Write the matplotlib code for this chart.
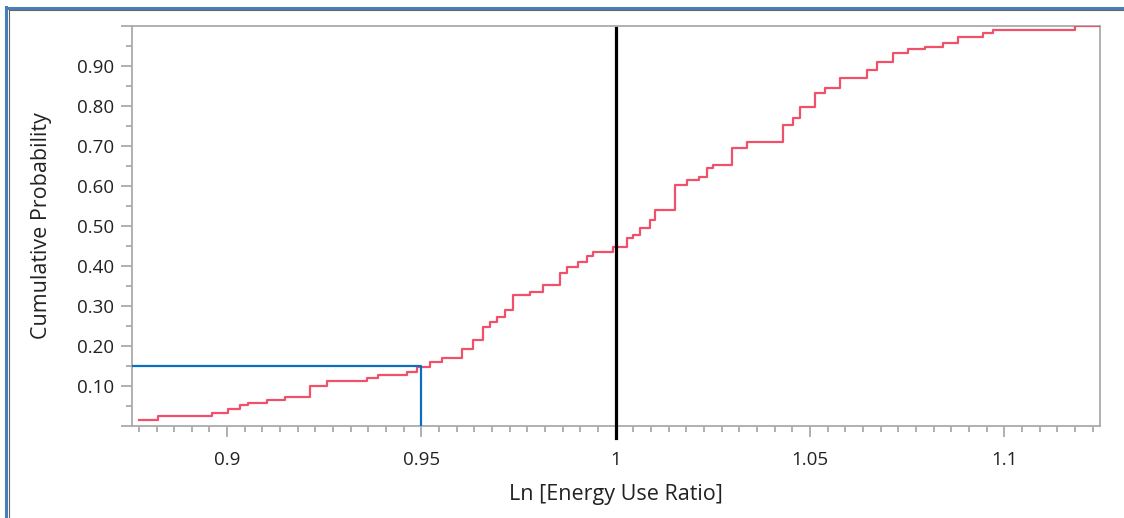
import numpy as np
import matplotlib
matplotlib.use("Agg")
import matplotlib.pyplot as plt
from matplotlib.ticker import MultipleLocator, AutoMinorLocator, FuncFormatter
from matplotlib.lines import Line2D

plt.rcParams['font.family'] = ['Open Sans', 'DejaVu Sans']

ratio = [0.8773, 0.8822, 0.8961, 0.9002, 0.9033, 0.9053, 0.9102, 0.9149, 0.9213,
         0.9257, 0.9360, 0.9388, 0.9463, 0.9489, 0.9522, 0.9553, 0.9604, 0.9632,
         0.9658, 0.9676, 0.9694, 0.9715, 0.9735, 0.9779, 0.9813, 0.9856, 0.9874,
         0.9903, 0.9926, 0.9941, 0.9993, 1.0029, 1.0045, 1.0063, 1.0088, 1.0101,
         1.0152, 1.0183, 1.0215, 1.0234, 1.0250, 1.0299, 1.0337, 1.0430, 1.0456,
         1.0474, 1.0513, 1.0538, 1.0577, 1.0646, 1.0672, 1.0713, 1.0752, 1.0796,
         1.0842, 1.0881, 1.0945, 1.0971, 1.1182]
cum_prob = [0.015, 0.025, 0.033, 0.042, 0.052, 0.058, 0.065, 0.073, 0.100,
            0.113, 0.121, 0.1275, 0.135, 0.148, 0.161, 0.170, 0.192, 0.215,
            0.248, 0.260, 0.273, 0.290, 0.3275, 0.336, 0.3525, 0.382, 0.398,
            0.410, 0.425, 0.436, 0.448, 0.470, 0.478, 0.495, 0.515, 0.540,
            0.6025, 0.615, 0.623, 0.645, 0.6525, 0.695, 0.711, 0.7525, 0.770,
            0.798, 0.8325, 0.845, 0.870, 0.890, 0.911, 0.933, 0.942, 0.948,
            0.958, 0.973, 0.983, 0.990, 1.000]

target = 1.0
cutoff_x = 0.95
cutoff_p = 0.15
x_range = (0.8755, 1.1246)

grey = '#aaaaaa'
text_col = '#222222'

fig = plt.figure(figsize=(11.24, 5.18), dpi=100)
ax = fig.add_axes([0.1174, 0.1776, 0.8612, 0.7722])

xs = ratio + [x_range[1]]
ys = cum_prob + [cum_prob[-1]]
ax.plot(xs, ys, drawstyle='steps-post', color='#f0506a', lw=1.6, zorder=3)

# reference lines
ax.plot([x_range[0], cutoff_x, cutoff_x], [cutoff_p, cutoff_p, 0],
        color='#0a6fc2', lw=1.6, zorder=4)
ax.plot([target, target], [-0.03, 0.995], color='black', lw=2.3,
        clip_on=False, zorder=5)

ax.set_xlim(*x_range)
ax.set_ylim(0, 1.0)

ax.xaxis.set_major_locator(MultipleLocator(0.05))
ax.xaxis.set_minor_locator(AutoMinorLocator(11))
ax.xaxis.set_major_formatter(FuncFormatter(lambda v, p: '%g' % round(v, 3)))
ax.yaxis.set_major_locator(MultipleLocator(0.1))
ax.yaxis.set_minor_locator(AutoMinorLocator(2))
ax.yaxis.set_major_formatter(FuncFormatter(
    lambda v, p: '' if v < 0.05 or v > 0.95 else '%.2f' % v))

for s in ax.spines.values():
    s.set_color(grey)
    s.set_linewidth(1.3)
ax.tick_params(which='major', length=8, width=1.3, color=grey,
               labelsize=13.5, labelcolor=text_col)
ax.tick_params(axis='x', which='major', pad=10)
ax.tick_params(axis='y', which='major', pad=5)
ax.tick_params(which='minor', length=4, width=1.3, color=grey)

ax.set_xlabel('Ln [Energy Use Ratio]', fontsize=15.5, color=text_col, labelpad=11)
ax.set_ylabel('Cumulative Probability', fontsize=15.5, color=text_col, labelpad=18)

# window border
fig.add_artist(Line2D([6.5 / 1124, 6.5 / 1124], [0, 1 - 7 / 518],
                      transform=fig.transFigure, color='#4a7ebb', lw=2.2))
fig.add_artist(Line2D([6.5 / 1124, 1], [1 - 8 / 518, 1 - 8 / 518],
                      transform=fig.transFigure, color='#4a7ebb', lw=2.2))
fig.add_artist(Line2D([9 / 1124, 9 / 1124], [0, 1 - 10 / 518],
                      transform=fig.transFigure, color='#666666', lw=0.8))
fig.add_artist(Line2D([9 / 1124, 1], [1 - 10 / 518, 1 - 10 / 518],
                      transform=fig.transFigure, color='#666666', lw=0.8))

fig.savefig('out.png', dpi=100)
